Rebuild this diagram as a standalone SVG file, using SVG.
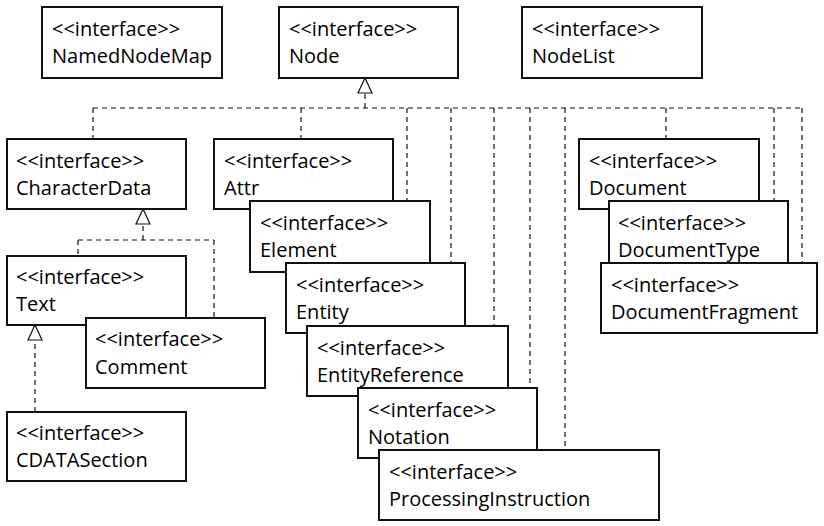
<svg xmlns="http://www.w3.org/2000/svg" width="824" height="526" viewBox="0 0 824 526">
<style>
.box{fill:#fff;stroke:#111;stroke-width:2}
.lbl{font-family:"Open Sans","DejaVu Sans",sans-serif;font-size:20px;fill:#000}
.dash{fill:none;stroke:#111;stroke-width:1.2;stroke-dasharray:5,4}
</style>
<defs>
<marker id="tri" markerUnits="userSpaceOnUse" markerWidth="18" markerHeight="18" viewBox="-16 -9 18 18" refX="0" refY="0" orient="auto">
<path d="M0,0 L-15,-7 L-15,7 Z" fill="#fff" stroke="#111" stroke-width="1.2" stroke-dasharray="none"/>
</marker>
</defs>
<rect width="824" height="526" fill="#fff"/>
<g id="connectors">
<path class="dash" d="M365,108 V78" marker-end="url(#tri)"/>
<path class="dash" d="M93,108 H802"/>
<path class="dash" d="M93,108 V139 M301,108 V139 M407,108 V201 M451,108 V263 M494,108 V326 M530,108 V388 M565,108 V450 M666,108 V139 M774,108 V201 M802,108 V263"/>
<path class="dash" d="M143,240 V209" marker-end="url(#tri)"/>
<path class="dash" d="M78,240 H214 M78,240 V256 M214,240 V318"/>
<path class="dash" d="M35,412 V325" marker-end="url(#tri)"/>
</g>
<g id="NamedNodeMap"><rect class="box" x="42" y="7" width="180" height="71"/><text class="lbl" x="52" y="36">&lt;&lt;interface&gt;&gt;</text><text class="lbl" x="52" y="63">NamedNodeMap</text></g>
<g id="Node"><rect class="box" x="279" y="7" width="179" height="71"/><text class="lbl" x="289" y="36">&lt;&lt;interface&gt;&gt;</text><text class="lbl" x="289" y="63">Node</text></g>
<g id="NodeList"><rect class="box" x="522" y="7" width="180" height="71"/><text class="lbl" x="532" y="36">&lt;&lt;interface&gt;&gt;</text><text class="lbl" x="532" y="63">NodeList</text></g>
<g id="CharacterData"><rect class="box" x="7" y="139" width="179" height="70"/><text class="lbl" x="16" y="168">&lt;&lt;interface&gt;&gt;</text><text class="lbl" x="16" y="195">CharacterData</text></g>
<g id="Attr"><rect class="box" x="214" y="139" width="179" height="70"/><text class="lbl" x="224" y="168">&lt;&lt;interface&gt;&gt;</text><text class="lbl" x="224" y="195">Attr</text></g>
<g id="Element"><rect class="box" x="250" y="201" width="180" height="71"/><text class="lbl" x="260" y="230">&lt;&lt;interface&gt;&gt;</text><text class="lbl" x="260" y="257">Element</text></g>
<g id="Entity"><rect class="box" x="286" y="263" width="179" height="70"/><text class="lbl" x="296" y="292">&lt;&lt;interface&gt;&gt;</text><text class="lbl" x="296" y="319">Entity</text></g>
<g id="EntityReference"><rect class="box" x="307" y="326" width="201" height="70"/><text class="lbl" x="317" y="355">&lt;&lt;interface&gt;&gt;</text><text class="lbl" x="317" y="382">EntityReference</text></g>
<g id="Notation"><rect class="box" x="358" y="388" width="179" height="70"/><text class="lbl" x="368" y="417">&lt;&lt;interface&gt;&gt;</text><text class="lbl" x="368" y="444">Notation</text></g>
<g id="ProcessingInstruction"><rect class="box" x="379" y="450" width="280" height="70"/><text class="lbl" x="389" y="479">&lt;&lt;interface&gt;&gt;</text><text class="lbl" x="389" y="506">ProcessingInstruction</text></g>
<g id="Document"><rect class="box" x="579" y="139" width="180" height="70"/><text class="lbl" x="589" y="168">&lt;&lt;interface&gt;&gt;</text><text class="lbl" x="589" y="195">Document</text></g>
<g id="DocumentType"><rect class="box" x="609" y="201" width="179" height="71"/><text class="lbl" x="618" y="230">&lt;&lt;interface&gt;&gt;</text><text class="lbl" x="618" y="257">DocumentType</text></g>
<g id="DocumentFragment"><rect class="box" x="601" y="263" width="216" height="70"/><text class="lbl" x="611" y="292">&lt;&lt;interface&gt;&gt;</text><text class="lbl" x="611" y="319">DocumentFragment</text></g>
<g id="Text"><rect class="box" x="7" y="256" width="179" height="69"/><text class="lbl" x="16" y="284">&lt;&lt;interface&gt;&gt;</text><text class="lbl" x="16" y="311">Text</text></g>
<g id="Comment"><rect class="box" x="86" y="318" width="179" height="70"/><text class="lbl" x="95" y="346">&lt;&lt;interface&gt;&gt;</text><text class="lbl" x="95" y="374">Comment</text></g>
<g id="CDATASection"><rect class="box" x="7" y="412" width="179" height="69"/><text class="lbl" x="16" y="440">&lt;&lt;interface&gt;&gt;</text><text class="lbl" x="16" y="467">CDATASection</text></g>
</svg>
